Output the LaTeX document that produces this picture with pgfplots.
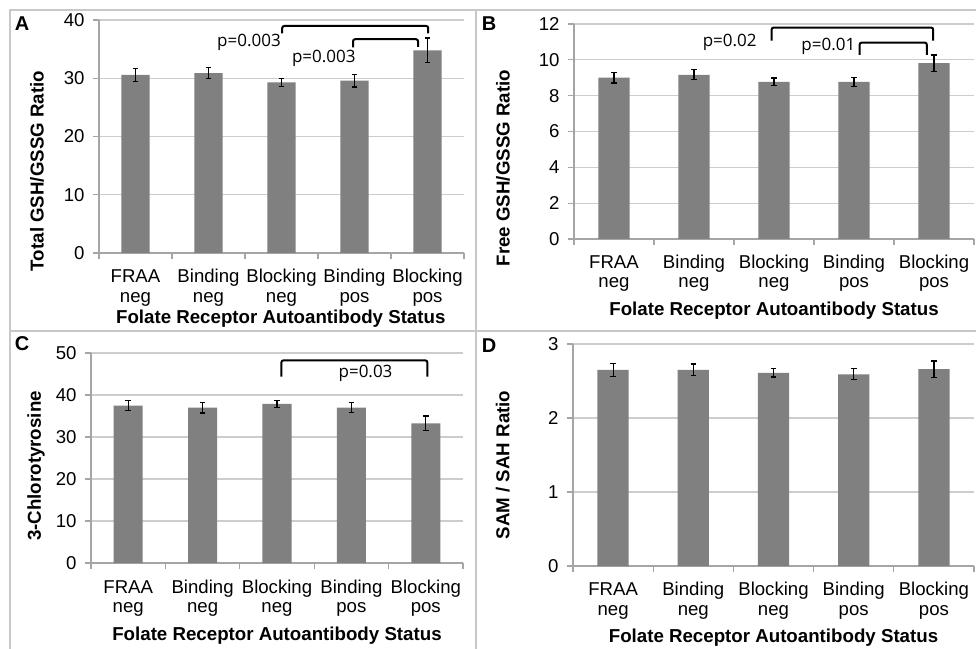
\documentclass[border=0pt]{standalone}
\usepackage{fontspec}
\setmainfont{Liberation Sans}
\newfontfamily\pfont{Open Sans}
\usepackage{pgfplots}
\pgfplotsset{compat=1.18}
\definecolor{bargray}{RGB}{128,128,128}
\definecolor{gridgray}{RGB}{205,205,205}
\definecolor{axgray}{RGB}{165,165,165}
\definecolor{framegray}{RGB}{200,200,200}
\newcommand{\fs}{\fontsize{18.6}{19.2}\selectfont}
\newcommand{\lfs}{\fontsize{18.7}{21}\selectfont\bfseries}
\newcommand{\pfs}{\pfont\fontsize{17}{20}\selectfont}
\newcommand{\ts}{\rule[-4pt]{0pt}{18pt}}
\pgfplotsset{
  panel/.style={
    scale only axis, anchor=south west,
    xmin=-0.5, xmax=4.5, ymin=0,
    axis lines*=left,
    axis line style={axgray, line width=1.2pt},
    xtick={0,1,2,3,4},
    xticklabels={{\ts FRAA\\\ts neg},{\ts Binding\\\ts neg},{\ts Blocking\\\ts neg},{\ts Binding\\\ts pos},{\ts Blocking\\\ts pos}},
    minor xtick={-0.5,0.5,1.5,2.5,3.5,4.5},
    major x tick style={draw=none},
    minor x tick style={axgray, line width=1.2pt},
    minor tick length=6pt,
    y tick style={axgray, line width=1.2pt},
    major tick length=6pt,
    tick align=outside,
    ymajorgrids, major y grid style={gridgray, line width=1.2pt},
    xticklabel style={align=center, font=\fs, text=black, inner sep=0pt, anchor=north},
    yticklabel style={font=\fs, text=black, xshift=-5pt},
    /pgf/number format/assume math mode=true,
    xlabel={Folate Receptor Autoantibody Status},
    clip=false,
  },
  bars/.style={ybar, bar width=0.39, fill=bargray, draw=none,
    error bars/.cd, y dir=both, y explicit,
    error bar style={black, line width=1.2pt},
    error mark options={black, rotate=90, mark size=2.8pt, line width=1.2pt}},
  brk/.style={black, line width=2pt, rounded corners=2pt, mark=none, sharp plot},
}
\begin{document}
\begin{tikzpicture}
\useasboundingbox (0,0) rectangle (976pt,648pt);
\draw[framegray, line width=1.5pt] (10pt,-5pt) -- (10pt,638pt) -- (990pt,638pt);
\draw[framegray, line width=1.5pt] (10pt,317pt) -- (990pt,317pt);
\draw[framegray, line width=1.5pt] (476pt,638pt) -- (476pt,-5pt);

% Panel A
\begin{axis}[panel, at={(99pt,395pt)}, width=365pt, height=233pt,
  ymax=40, ytick={0,10,20,30,40},
  xticklabel style={yshift=-9.7pt},
  ylabel={Total GSH/GSSG Ratio},
  ylabel style={at={(rel axis cs:-0.170,0.352)}, anchor=center, font=\lfs},
  xlabel style={at={(rel axis cs:0.498,-0.3026)}, anchor=base, inner sep=0pt, font=\lfs}]
\addplot[bars] coordinates {(0,30.6) +- (0,1.1) (1,30.9) +- (0,1.0) (2,29.3) +- (0,0.7) (3,29.6) +- (0,1.1) (4,34.8) +- (0,2.1)};
\addplot[brk] coordinates {(2.01,37.7) (2.01,38.97) (4.01,38.97) (4.01,37.7)};
\addplot[brk] coordinates {(2.98,35.3) (2.98,36.7) (3.87,36.7) (3.87,35.4)};
\node[font=\pfs] at (axis cs:1.555,36.2) {p=0.003};
\node[font=\pfs] at (axis cs:2.58,33.4) {p=0.003};
\end{axis}

% Panel B
\begin{axis}[panel, at={(574pt,409pt)}, width=400pt, height=215pt,
  ymax=12, ytick={0,2,4,6,8,10,12},
  xticklabel style={yshift=-9.3pt},
  ylabel={Free GSH/GSSG Ratio},
  ylabel style={at={(rel axis cs:-0.1775,0.330)}, anchor=center, font=\lfs},
  xlabel style={at={(rel axis cs:0.5,-0.3535)}, anchor=base, inner sep=0pt, font=\lfs}]
\addplot[bars] coordinates {(0,9.01) +- (0,0.3) (1,9.16) +- (0,0.28) (2,8.77) +- (0,0.22) (3,8.77) +- (0,0.24) (4,9.81) +- (0,0.46)};
\addplot[brk] coordinates {(1.97,11.07) (1.97,11.8) (3.99,11.8) (3.99,11.07)};
\addplot[brk] coordinates {(3.07,10.27) (3.07,10.96) (3.91,10.96) (3.91,10.27)};
\node[font=\pfs] at (axis cs:1.446,10.96) {p=0.02};
\node[font=\pfs] at (axis cs:2.68,10.74) {p=0.01};
\end{axis}

% Panel C
\begin{axis}[panel, at={(91pt,85pt)}, width=372pt, height=210pt,
  ymax=50, ytick={0,10,20,30,40,50},
  xticklabel style={yshift=-10.3pt},
  ylabel={3-Chlorotyrosine},
  ylabel style={at={(rel axis cs:-0.148,0.462)}, anchor=center, font=\lfs},
  xlabel style={at={(rel axis cs:0.5,-0.3667)}, anchor=base, inner sep=0pt, font=\lfs}]
\addplot[bars] coordinates {(0,37.5) +- (0,1.27) (1,37.0) +- (0,1.27) (2,37.9) +- (0,0.85) (3,37.0) +- (0,1.2) (4,33.25) +- (0,1.75)};
\addplot[brk] coordinates {(2.06,44.4) (2.06,48.25) (4.02,48.25) (4.02,44.4)};
\node[font=\pfs] at (axis cs:3.19,45.2) {p=0.03};
\end{axis}

% Panel D
\begin{axis}[panel, at={(573pt,82pt)}, width=401pt, height=222pt,
  ymax=3, ytick={0,1,2,3},
  xticklabel style={yshift=-9.7pt},
  ylabel={SAM / SAH Ratio},
  ylabel style={at={(rel axis cs:-0.175,0.455)}, anchor=center, font=\lfs},
  xlabel style={at={(rel axis cs:0.5,-0.3437)}, anchor=base, inner sep=0pt, font=\lfs}]
\addplot[bars] coordinates {(0,2.65) +- (0,0.085) (1,2.65) +- (0,0.08) (2,2.61) +- (0,0.055) (3,2.59) +- (0,0.075) (4,2.66) +- (0,0.11)};
\end{axis}

\node[font=\fontsize{20}{24}\selectfont\bfseries] at (22pt,624pt) {A};
\node[font=\fontsize{20}{24}\selectfont\bfseries] at (489pt,624pt) {B};
\node[font=\fontsize{20}{24}\selectfont\bfseries] at (22pt,304pt) {C};
\node[font=\fontsize{20}{24}\selectfont\bfseries] at (489pt,302pt) {D};
\end{tikzpicture}
\end{document}
